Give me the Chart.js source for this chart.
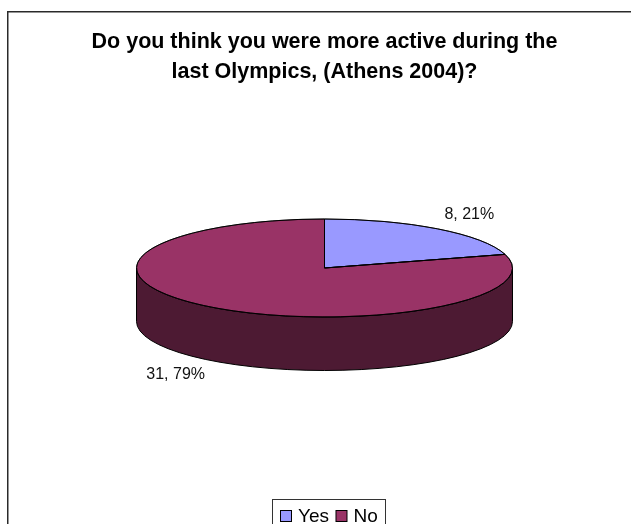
<!DOCTYPE html>
<html>
<head>
<meta charset="utf-8">
<title>Olympics activity</title>
<style>
    html, body { margin: 0; padding: 0; background: #fff; overflow: hidden; }
    canvas { display: block; }
</style>
<script src="https://cdn.jsdelivr.net/npm/chart.js@4/dist/chart.umd.min.js"></script>
</head>
<body>
<canvas id="pieChart" width="631" height="524"></canvas>
<script>
const categories = ['Yes', 'No'];
const answers = [8, 31];
const sliceColors = ['#9999FF', '#993366'];
const sideColors = ['#4D4D80', '#4D1A33'];
const titleLines = ['Do you think you were more active during the', 'last Olympics, (Athens 2004)?'];

// Tilted disc geometry
const pieRadius = 188;
const pieCenterY = 268;
const tilt = 49 / 188;
const pieDepth = 53.5;

const fontFamily = '"Liberation Sans", Arial, sans-serif';
const total = answers.reduce((a, b) => a + b, 0);

function sliceLabel(i) {
    return answers[i] + ', ' + Math.round(answers[i] / total * 100) + '%';
}

function drawLegend(ctx) {
    ctx.strokeStyle = '#333';
    ctx.lineWidth = 1;
    ctx.strokeRect(272.5, 499.5, 113, 40);

    ctx.font = '19px ' + fontFamily;
    ctx.textAlign = 'left';
    ctx.textBaseline = 'alphabetic';
    let x = 280;
    categories.forEach((name, i) => {
        ctx.fillStyle = sliceColors[i];
        ctx.fillRect(x + 0.5, 510.5, 11, 11);
        ctx.strokeStyle = '#000';
        ctx.strokeRect(x + 0.5, 510.5, 11, 11);
        ctx.fillStyle = '#000';
        ctx.fillText(name, x + 18, 521.5);
        x += 18 + ctx.measureText(name).width + 6.5;
    });
}

const tiltedPie = {
    id: 'tiltedPie',
    beforeDraw(chart) {
        const ctx = chart.ctx;
        ctx.save();
        ctx.fillStyle = '#fff';
        ctx.fillRect(0, 0, chart.width, chart.height);
        // Outer frame runs off the right and bottom edges
        ctx.strokeStyle = '#2a2a2a';
        ctx.lineWidth = 1.5;
        ctx.strokeRect(7.75, 11.75, 700, 600);
        drawLegend(ctx);
        ctx.restore();
    },
    beforeDatasetsDraw(chart) {
        const ctx = chart.ctx;
        const arcs = chart.getDatasetMeta(0).data;

        // Side wall, only the front half of the rim shows
        arcs.forEach((arc, i) => {
            const from = Math.max(arc.startAngle, 0);
            const to = Math.min(arc.endAngle, Math.PI);
            if (from >= to) return;
            const r = arc.outerRadius;
            ctx.beginPath();
            ctx.ellipse(arc.x, pieCenterY, r, r * tilt, 0, from, to);
            ctx.ellipse(arc.x, pieCenterY + pieDepth, r, r * tilt, 0, to, from, true);
            ctx.closePath();
            ctx.fillStyle = sideColors[i];
            ctx.fill();
            ctx.strokeStyle = '#000';
            ctx.lineWidth = 1;
            ctx.stroke();
        });

        // Squash the slices into an ellipse
        ctx.save();
        ctx.translate(0, pieCenterY);
        ctx.scale(1, tilt);
        ctx.translate(0, -arcs[0].y);
    },
    afterDatasetsDraw(chart) {
        const ctx = chart.ctx;
        ctx.restore();

        chart.getDatasetMeta(0).data.forEach((arc, i) => {
            const r = arc.outerRadius;

            // Redraw outline here so it keeps an even width after the squash
            ctx.beginPath();
            ctx.moveTo(arc.x, pieCenterY);
            ctx.ellipse(arc.x, pieCenterY, r, r * tilt, 0, arc.startAngle, arc.endAngle);
            ctx.closePath();
            ctx.strokeStyle = '#000';
            ctx.lineWidth = 1;
            ctx.stroke();

            // Value label outside the middle of the slice
            const mid = (arc.startAngle + arc.endAngle) / 2;
            const front = Math.sin(mid) > 0;
            const lx = arc.x - 2 + Math.cos(mid) * r * 1.3;
            const ly = pieCenterY + Math.sin(mid) * r * tilt * 1.3 + (front ? pieDepth + 2 : -2.5);
            ctx.fillStyle = '#111';
            ctx.font = '16px ' + fontFamily;
            ctx.textAlign = 'center';
            ctx.textBaseline = 'middle';
            ctx.fillText(sliceLabel(i), lx, ly);
        });
    }
};

new Chart(document.getElementById('pieChart'), {
    type: 'pie',
    data: {
        labels: categories,
        datasets: [{
            data: answers,
            backgroundColor: sliceColors,
            borderColor: '#000',
            borderWidth: 1
        }]
    },
    options: {
        responsive: false,
        animation: false,
        radius: pieRadius,
        layout: { padding: { left: 18 } },
        plugins: {
            title: {
                display: true,
                text: titleLines,
                color: '#000',
                font: { family: fontFamily, size: 21.5, weight: 'bold', lineHeight: 1.395 },
                padding: { top: 27.5, bottom: 4 }
            },
            legend: { display: false },
            tooltip: { enabled: false }
        }
    },
    plugins: [tiltedPie]
});
</script>
</body>
</html>
